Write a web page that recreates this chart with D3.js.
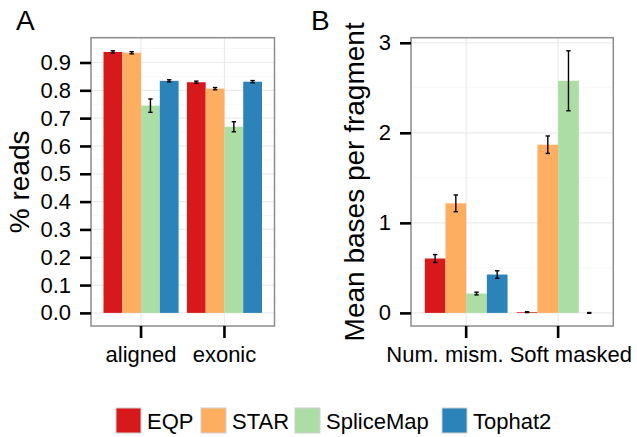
<!DOCTYPE html>
<html>
<head>
<meta charset="utf-8">
<script src="https://cdn.jsdelivr.net/npm/d3@7"></script>
<style>
  body { margin: 0; background: #fff; }
  svg { font-family: "Liberation Sans", Arial, sans-serif; }
</style>
</head>
<body>
<svg id="chart" width="637" height="437"></svg>
<script>
var methods = ["EQP", "STAR", "SpliceMap", "Tophat2"];
var colors = ["#D7191C", "#FDAE61", "#ABDDA4", "#2B83BA"];

// panel A: fraction of reads
var catsA = ["aligned", "exonic"];
var meanA = [
    [0.938, 0.935, 0.745, 0.834],
    [0.829, 0.806, 0.669, 0.831]
];
var errA = [
    [0.004, 0.004, 0.024, 0.004],
    [0.004, 0.004, 0.018, 0.004]
];
var ticksA = [0, 0.1, 0.2, 0.3, 0.4, 0.5, 0.6, 0.7, 0.8, 0.9];

// panel B: mean bases per fragment
var catsB = ["Num. mism.", "Soft masked"];
var meanB = [
    [0.604, 1.217, 0.215, 0.426],
    [0.008, 1.868, 2.578, 0.0]
];
var errB = [
    [0.044, 0.093, 0.015, 0.042],
    [0.004, 0.097, 0.333, 0.004]
];
var ticksB = [0, 1, 2, 3];

var svg = d3.select("#chart");

function drawPanel(opts) {
    var left = opts.left, right = opts.right, top = 37.7, bottom = 326;
    var g = svg.append("g");

    var x = d3.scaleBand().domain(opts.cats).range([left, right])
        .paddingInner(0.1).paddingOuter(0.15);
    var xs = d3.scaleBand().domain(methods).range([0, x.bandwidth()]);

    var hi = d3.max(opts.mean, function (row, i) {
        return d3.max(row, function (v, j) { return v + opts.err[i][j]; });
    });
    var lo = 0, pad = (hi - lo) * 0.05;
    var y = d3.scaleLinear().domain([lo - pad, hi + pad]).range([bottom, top]);

    // grid
    var minor = opts.ticks.slice(0, -1).map(function (t, i) {
        return (t + opts.ticks[i + 1]) / 2;
    });
    minor.push(opts.ticks[opts.ticks.length - 1] + (opts.ticks[1] - opts.ticks[0]) / 2);
    minor = minor.filter(function (t) { return y(t) > top; });
    g.selectAll(".minor").data(minor).enter().append("line")
        .attr("x1", left).attr("x2", right)
        .attr("y1", function (d) { return y(d); }).attr("y2", function (d) { return y(d); })
        .attr("stroke", "#F7F7F7").attr("stroke-width", 1);
    g.selectAll(".major").data(opts.ticks).enter().append("line")
        .attr("x1", left).attr("x2", right)
        .attr("y1", function (d) { return y(d); }).attr("y2", function (d) { return y(d); })
        .attr("stroke", "#EBEBEB").attr("stroke-width", 1.2);
    g.selectAll(".vgrid").data(opts.cats).enter().append("line")
        .attr("x1", function (d) { return x(d) + x.bandwidth() / 2; })
        .attr("x2", function (d) { return x(d) + x.bandwidth() / 2; })
        .attr("y1", top).attr("y2", bottom)
        .attr("stroke", "#EBEBEB").attr("stroke-width", 1.2);

    // bars
    var rows = [];
    opts.cats.forEach(function (c, i) {
        methods.forEach(function (m, j) {
            rows.push({ cat: c, m: m, j: j, v: opts.mean[i][j], e: opts.err[i][j] });
        });
    });
    g.selectAll(".bar").data(rows).enter().append("rect")
        .attr("x", function (d) { return x(d.cat) + xs(d.m); })
        .attr("width", xs.bandwidth())
        .attr("y", function (d) { return y(d.v); })
        .attr("height", function (d) { return y(0) - y(d.v); })
        .attr("fill", function (d) { return colors[d.j]; });

    // error bars
    var eb = g.selectAll(".err").data(rows).enter().append("g")
        .attr("stroke", "#000").attr("stroke-width", 1.4);
    function cx(d) { return x(d.cat) + xs(d.m) + xs.bandwidth() / 2; }
    eb.append("line")
        .attr("x1", cx).attr("x2", cx)
        .attr("y1", function (d) { return y(d.v - d.e); })
        .attr("y2", function (d) { return y(d.v + d.e); });
    [-1, 1].forEach(function (s) {
        eb.append("line")
            .attr("x1", function (d) { return cx(d) - 2.2; })
            .attr("x2", function (d) { return cx(d) + 2.2; })
            .attr("y1", function (d) { return y(d.v + s * d.e); })
            .attr("y2", function (d) { return y(d.v + s * d.e); });
    });

    // border
    g.append("rect")
        .attr("x", left).attr("y", top)
        .attr("width", right - left).attr("height", bottom - top)
        .attr("fill", "none").attr("stroke", "#8C8C8C").attr("stroke-width", 1.5);

    // axes
    var ya = g.append("g").attr("transform", "translate(" + left + ",0)")
        .call(d3.axisLeft(y).tickValues(opts.ticks).tickFormat(opts.fmt)
            .tickSize(11).tickPadding(9));
    var xa = g.append("g").attr("transform", "translate(0," + bottom + ")")
        .call(d3.axisBottom(x).tickSize(12).tickPadding(8));
    [ya, xa].forEach(function (a) {
        a.select(".domain").remove();
        a.selectAll(".tick line").attr("stroke", "#000").attr("stroke-width", 2.6);
        a.selectAll(".tick text").attr("fill", "#000")
            .style("font-size", "22px").style("font-family", "Liberation Sans, Arial, sans-serif");
    });
    if (opts.xLabelShift) {
        xa.selectAll(".tick text").each(function (d, i) {
            var s = opts.xLabelShift[i];
            d3.select(this).attr("text-anchor", s.anchor).attr("x", s.dx);
        });
    }

    // axis title
    g.append("text")
        .attr("transform", "translate(" + opts.titleX + "," + ((top + bottom) / 2) + ") rotate(-90)")
        .attr("text-anchor", "middle")
        .style("font-size", "28px")
        .text(opts.title);

    // panel letter
    g.append("text")
        .attr("x", opts.letterX).attr("y", 30)
        .style("font-size", "28px")
        .text(opts.letter);
}

drawPanel({
    left: 91, right: 274.5,
    cats: catsA, mean: meanA, err: errA, ticks: ticksA,
    fmt: d3.format(".1f"),
    title: "% reads", titleX: 29, letter: "A", letterX: 16
});

drawPanel({
    left: 411, right: 613.3,
    cats: catsB, mean: meanB, err: errB, ticks: ticksB,
    fmt: d3.format("d"),
    title: "Mean bases per fragment", titleX: 364, letter: "B", letterX: 311,
    xLabelShift: [{ anchor: "end", dx: 37.5 }, { anchor: "start", dx: -48.5 }]
});

// legend
var legendX = [116, 201, 295, 442];
var leg = svg.append("g");
methods.forEach(function (m, i) {
    leg.append("rect")
        .attr("x", legendX[i]).attr("y", 408)
        .attr("width", 25).attr("height", 25)
        .attr("fill", colors[i])
        .attr("stroke", "#D0D0D0").attr("stroke-width", 1);
    leg.append("text")
        .attr("x", legendX[i] + 31).attr("y", 428.5)
        .style("font-size", "22px")
        .text(m);
});
</script>
</body>
</html>
